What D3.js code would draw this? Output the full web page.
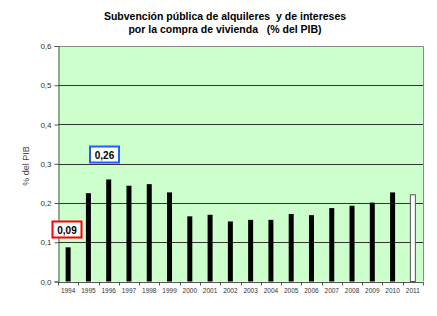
<!DOCTYPE html>
<html><head><meta charset="utf-8">
<script src="https://cdn.jsdelivr.net/npm/d3@7"></script>
<style>body{margin:0;background:#fff;}svg{display:block;font-family:Arial,"Liberation Sans",sans-serif;} .pre{white-space:pre;}</style>
</head><body><svg id="c" width="437" height="316"></svg>
<script>
const years = ["1994","1995","1996","1997","1998","1999","2000","2001","2002","2003","2004","2005","2006","2007","2008","2009","2010","2011"];
const values = [0.087,0.225,0.26,0.244,0.248,0.227,0.166,0.17,0.153,0.157,0.157,0.172,0.169,0.187,0.193,0.201,0.227,0.221];
const estimated = ["2011"];
const yTicks = [0,0.1,0.2,0.3,0.4,0.5,0.6];
const titleLines = ["Subvención pública de alquileres  y de intereses","por la compra de vivienda   (% del PIB)"];
const yTitle = "% del PIB";
const callouts = [{year:"1994", text:"0,09", color:"#ff0000"},{year:"1996", text:"0,26", color:"#1f5fff"}];

const svg = d3.select("#c");
const m = {l:58, t:46, r:423, b:281.5};
const x = d3.scaleBand().domain(years).range([m.l, m.r]);
const y = d3.scaleLinear().domain([0,0.6]).range([m.b, m.t]);
const fmt = d => d3.format(".1f")(d).replace(".", ",");

svg.append("rect").attr("x", m.l).attr("y", m.t).attr("width", m.r-m.l).attr("height", m.b-m.t).attr("fill", "#ccffcc");

// gridlines
svg.append("g").selectAll("line").data(yTicks.filter(d=>d>0 && d<0.6)).join("line")
  .attr("x1", m.l).attr("x2", m.r).attr("y1", d=>Math.round(y(d))+0.5).attr("y2", d=>Math.round(y(d))+0.5)
  .attr("stroke", "#333").attr("stroke-width", 1);
// top and right border
svg.append("path").attr("d", `M${m.l},${Math.round(m.t)+0.5}H${m.r+0.5}V${m.b}`).attr("fill","none").attr("stroke","#888").attr("stroke-width",1);

// bars
svg.append("g").selectAll("rect").data(years).join("rect")
  .attr("x", d => x(d) + x.bandwidth()/2 - 2.5)
  .attr("width", 5)
  .attr("y", (d,i) => y(values[i]))
  .attr("height", (d,i) => y(0) - y(values[i]))
  .attr("fill", d => estimated.includes(d) ? "#fff" : "#000")
  .attr("stroke", d => estimated.includes(d) ? "#555" : "none")
  .attr("stroke-width", 1);

// y axis
const ya = d3.axisLeft(y).tickValues(yTicks).tickFormat(fmt).tickSize(4).tickPadding(3);
const gy = svg.append("g").attr("transform", `translate(${m.l+0.5},0)`).call(ya);
gy.select(".domain").attr("stroke", "#555");
gy.selectAll(".tick line").attr("stroke", "#555");
gy.selectAll("text").attr("font-size", 8).attr("fill", "#333").attr("font-family","Arial, 'Liberation Sans', sans-serif");

// x axis
const gx = svg.append("g").attr("transform", `translate(0,${Math.round(m.b)+0.5})`);
gx.append("line").attr("x1", m.l).attr("x2", m.r+0.5).attr("stroke", "#555");
gx.selectAll("line.t").data(years.concat(["end"])).join("line").attr("class","t")
  .attr("x1", (d,i)=> Math.round(m.l + i*x.step())+0.5).attr("x2",(d,i)=> Math.round(m.l + i*x.step())+0.5)
  .attr("y1",0).attr("y2",3).attr("stroke","#555");
gx.selectAll("text").data(years).join("text")
  .attr("x", d => x(d)+x.bandwidth()/2).attr("y", 10)
  .attr("text-anchor","middle").attr("font-size", 6.5).attr("fill","#333").text(d=>d);

// titles
svg.append("text").attr("class","pre").attr("x", 225).attr("y", 20).attr("text-anchor","middle").attr("font-size", 10.5).attr("font-weight","bold").text(titleLines[0]);
svg.append("text").attr("class","pre").attr("x", 225).attr("y", 32.5).attr("text-anchor","middle").attr("font-size", 10.5).attr("font-weight","bold").text(titleLines[1]);

svg.append("text").attr("transform","translate(29,166) rotate(-90)").attr("text-anchor","middle")
  .attr("font-size", 9).attr("fill","#444").text(yTitle);

// callouts
const cpos = {"1994":{x:52.5,y:221.5}, "1996":{x:90,y:146.5}};
callouts.forEach(c => {
  const p = cpos[c.year];
  const g = svg.append("g");
  g.append("rect").attr("x", p.x).attr("y", p.y).attr("width", 29).attr("height", 16)
    .attr("fill","#fff").attr("stroke", c.color).attr("stroke-width", 2);
  g.append("text").attr("x", p.x+14.5).attr("y", p.y+12).attr("text-anchor","middle")
    .attr("font-size", 10).attr("font-weight","bold").text(c.text);
});
</script></body></html>
